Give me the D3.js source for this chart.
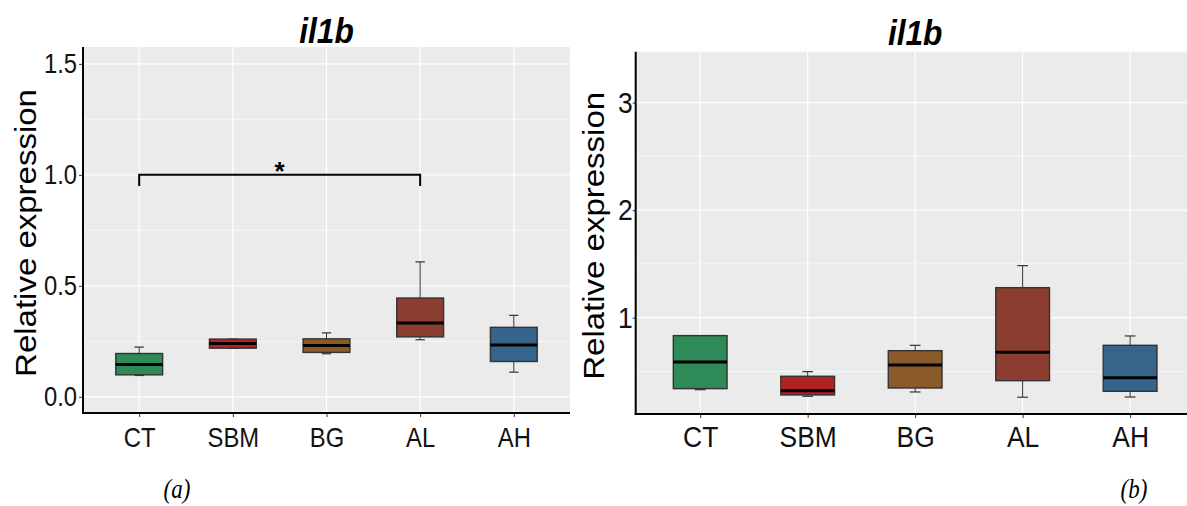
<!DOCTYPE html>
<html>
<head>
<meta charset="utf-8">
<script src="https://cdn.jsdelivr.net/npm/d3@7"></script>
<style>
  body { margin: 0; background: #fff; }
  text { font-family: "Liberation Sans", Arial, sans-serif; }
</style>
</head>
<body>
<div id="chart"></div>
<script>
// categories and colours
var groups = ["CT", "SBM", "BG", "AL", "AH"];
var fills = ["#2E8B57", "#B22222", "#8B5A2B", "#8B3E2F", "#36648B"];

// panel (a) box stats
var aMin = [0.096, 0.219, 0.194, 0.257, 0.111];
var aQ1  = [0.099, 0.219, 0.200, 0.270, 0.159];
var aMed = [0.146, 0.240, 0.231, 0.332, 0.233];
var aQ3  = [0.195, 0.260, 0.261, 0.445, 0.313];
var aMax = [0.224, 0.260, 0.288, 0.608, 0.367];
var aTicks = [0, 0.5, 1.0, 1.5];
var aMinor = [0.25, 0.75, 1.25];

// panel (b) box stats
var bMin = [0.330, 0.269, 0.309, 0.260, 0.262];
var bQ1  = [0.340, 0.281, 0.346, 0.414, 0.315];
var bMed = [0.588, 0.321, 0.560, 0.678, 0.442];
var bQ3  = [0.833, 0.455, 0.693, 1.279, 0.743];
var bMax = [0.833, 0.498, 0.743, 1.484, 0.830];
var bTicks = [1, 2, 3];
var bMinor = [0.5, 1.5, 2.5];

var svg = d3.select("#chart")
    .append("svg")
    .attr("width", 1187)
    .attr("height", 506);

function rows(mn, q1, md, q3, mx) {
    return groups.map(function (g, i) {
        return { g: g, fill: fills[i], min: mn[i], q1: q1[i], med: md[i], q3: q3[i], max: mx[i] };
    });
}

function panel(opt) {
    var x = d3.scalePoint().domain(groups).range([opt.left, opt.right]).padding(0.6);
    var y = d3.scaleLinear().domain(opt.domain).range([opt.bottom, opt.top]);
    var step = x.step();
    var g = svg.append("g");

    // background + grid
    g.append("rect")
        .attr("x", opt.left).attr("y", opt.top)
        .attr("width", opt.right - opt.left).attr("height", opt.bottom - opt.top)
        .attr("fill", "#EBEBEB");
    g.selectAll(".minor").data(opt.minor).enter().append("line")
        .attr("x1", opt.left).attr("x2", opt.right)
        .attr("y1", function (d) { return y(d); }).attr("y2", function (d) { return y(d); })
        .attr("stroke", "#fff").attr("stroke-width", 0.6);
    g.selectAll(".major").data(opt.ticks).enter().append("line")
        .attr("x1", opt.left).attr("x2", opt.right)
        .attr("y1", function (d) { return y(d); }).attr("y2", function (d) { return y(d); })
        .attr("stroke", "#fff").attr("stroke-width", 1.2);
    g.selectAll(".vgrid").data(groups).enter().append("line")
        .attr("x1", function (d) { return x(d); }).attr("x2", function (d) { return x(d); })
        .attr("y1", opt.top).attr("y2", opt.bottom)
        .attr("stroke", "#fff").attr("stroke-width", 1.2);

    var data = opt.data;
    var bw = step * 0.5, cw = step * 0.1;

    // whiskers
    var wk = g.selectAll(".wk").data(data).enter().append("g");
    wk.append("line")
        .attr("x1", function (d) { return x(d.g); }).attr("x2", function (d) { return x(d.g); })
        .attr("y1", function (d) { return y(d.max); }).attr("y2", function (d) { return y(d.min); })
        .attr("stroke", "#333").attr("stroke-width", 1);
    wk.append("line")
        .attr("x1", function (d) { return x(d.g) - cw / 2; }).attr("x2", function (d) { return x(d.g) + cw / 2; })
        .attr("y1", function (d) { return y(d.max); }).attr("y2", function (d) { return y(d.max); })
        .attr("stroke", "#333").attr("stroke-width", 1.2);
    wk.append("line")
        .attr("x1", function (d) { return x(d.g) - cw / 2; }).attr("x2", function (d) { return x(d.g) + cw / 2; })
        .attr("y1", function (d) { return y(d.min); }).attr("y2", function (d) { return y(d.min); })
        .attr("stroke", "#333").attr("stroke-width", 1.2);

    // boxes
    g.selectAll(".box").data(data).enter().append("rect")
        .attr("x", function (d) { return x(d.g) - bw / 2; })
        .attr("y", function (d) { return y(d.q3); })
        .attr("width", bw)
        .attr("height", function (d) { return y(d.q1) - y(d.q3); })
        .attr("fill", function (d) { return d.fill; })
        .attr("stroke", "#333").attr("stroke-width", 1.4);
    g.selectAll(".med").data(data).enter().append("line")
        .attr("x1", function (d) { return x(d.g) - bw / 2; }).attr("x2", function (d) { return x(d.g) + bw / 2; })
        .attr("y1", function (d) { return y(d.med); }).attr("y2", function (d) { return y(d.med); })
        .attr("stroke", "#000").attr("stroke-width", 3);

    // axes (text is narrow in the original, so squeeze it sideways)
    var sq = "scale(" + opt.sx + ",1)";
    var ya = g.append("g")
        .attr("transform", "translate(" + opt.left + ",0)")
        .call(d3.axisLeft(y).tickValues(opt.ticks).tickFormat(opt.fmt).tickSize(opt.tick).tickPadding(opt.ypad));
    ya.select(".domain").remove();
    ya.selectAll("line").attr("stroke", "#333");
    ya.selectAll("text").attr("fill", "#111").attr("transform", sq).style("font-size", opt.fs + "px");

    var xa = g.append("g")
        .attr("transform", "translate(0," + opt.bottom + ")")
        .call(d3.axisBottom(x).tickSize(4).tickPadding(opt.xpad));
    xa.select(".domain").remove();
    xa.selectAll("line").attr("stroke", "#333");
    xa.selectAll("text").attr("fill", "#111").attr("transform", sq).style("font-size", opt.fs + "px");

    g.append("line")
        .attr("x1", opt.left).attr("x2", opt.left)
        .attr("y1", opt.top).attr("y2", opt.bottom + 1)
        .attr("stroke", "#000").attr("stroke-width", 2);
    g.append("line")
        .attr("x1", opt.left - 1).attr("x2", opt.right)
        .attr("y1", opt.bottom).attr("y2", opt.bottom)
        .attr("stroke", "#000").attr("stroke-width", 2);

    // title and axis label
    g.append("text")
        .attr("transform", "translate(" + ((opt.left + opt.right) / 2) + "," + opt.titleY + ") scale(0.88,1)")
        .attr("text-anchor", "middle")
        .style("font-size", "36px").style("font-weight", "bold").style("font-style", "italic")
        .text("il1b");
    g.append("text")
        .attr("transform", "translate(" + opt.labX + "," + ((opt.top + opt.bottom) / 2 + 3) + ") rotate(-90) scale(1,0.9)")
        .attr("text-anchor", "middle")
        .attr("dy", "0.35em")
        .style("font-size", "33px")
        .text("Relative expression");

    return { x: x, y: y, g: g };
}

var pa = panel({
    left: 83, right: 570, top: 47, bottom: 413,
    domain: [-0.073, 1.576], ticks: aTicks, minor: aMinor,
    fmt: d3.format(".1f"), fs: 28, sx: 0.85, tick: 4, ypad: 3, xpad: 10,
    titleY: 43, labX: 26,
    data: rows(aMin, aQ1, aMed, aQ3, aMax)
});

var pb = panel({
    left: 635.7, right: 1194.6, top: 51.7, bottom: 414,
    domain: [0.104, 3.474], ticks: bTicks, minor: bMinor,
    fmt: d3.format("d"), fs: 30, sx: 0.88, tick: 3, ypad: 0.5, xpad: 8,
    titleY: 45, labX: 594,
    data: rows(bMin, bQ1, bMed, bQ3, bMax)
});

// significance bracket CT vs AL in panel (a)
var brY = pa.y(1.0), brLow = pa.y(0.95);
var x1 = pa.x("CT"), x2 = pa.x("AL");
pa.g.append("path")
    .attr("d", "M" + x1 + "," + brLow + "V" + brY + "H" + x2 + "V" + brLow)
    .attr("fill", "none").attr("stroke", "#000").attr("stroke-width", 2);
pa.g.append("text")
    .attr("x", (x1 + x2) / 2).attr("y", brY + 5)
    .attr("text-anchor", "middle")
    .style("font-size", "26px").style("font-weight", "bold")
    .text("*");

// panel letters
svg.append("text")
    .attr("transform", "translate(177,498) scale(0.85,1)")
    .attr("text-anchor", "middle")
    .style("font-family", "'Liberation Serif', 'Times New Roman', serif")
    .style("font-style", "italic").style("font-size", "27px")
    .text("(a)");
svg.append("text")
    .attr("transform", "translate(1134,498) scale(0.85,1)")
    .attr("text-anchor", "middle")
    .style("font-family", "'Liberation Serif', 'Times New Roman', serif")
    .style("font-style", "italic").style("font-size", "27px")
    .text("(b)");
</script>
</body>
</html>
